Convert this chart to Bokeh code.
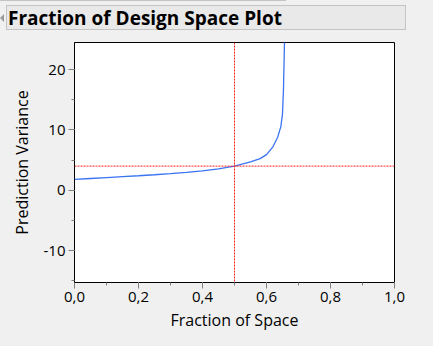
from bokeh.plotting import figure
from bokeh.models import (Div, Span, SingleIntervalTicker, CustomJSTickFormatter, Range1d)
from bokeh.layouts import column
from bokeh.embed import file_html
from bokeh.resources import INLINE

title_text = "Fraction of Design Space Plot"
x_label = "Fraction of Space"
y_label = "Prediction Variance"

fraction = [0.0, 0.05, 0.1, 0.15, 0.2, 0.25, 0.3, 0.35, 0.4, 0.45, 0.5, 0.55, 0.58,
            0.6, 0.62, 0.635, 0.645, 0.65, 0.653, 0.656, 0.657]
variance = [1.8, 1.95, 2.1, 2.25, 2.4, 2.57, 2.75, 2.95, 3.2, 3.55, 4.0, 4.7, 5.25,
            5.9, 7.2, 8.8, 10.6, 12.7, 16.6, 24.0, 30.0]

ref_x = 0.5
ref_y = 4.0

x_range = (0.0, 1.0)
y_range = (-15.3, 24.5)

BG = "#f0f0f0"
FONT = "Open Sans"

div = Div(
    text=(
        '<div style="position:relative;width:433px;height:41px;">'
        '<div style="position:absolute;left:0;top:-1px;width:286px;height:2px;'
        'border:1px solid #c4c4c4;background:#e9e9e9;"></div>'
        '<div style="position:absolute;left:0;top:14px;width:0;height:0;'
        'border-top:4px solid transparent;border-bottom:4px solid transparent;'
        'border-right:4px solid #9a9a9a;"></div>'
        '<div style="position:absolute;left:6px;top:5px;width:400px;height:25px;'
        'border:1px solid #c4c4c4;background:#e9e9e9;"></div>'
        f'<div style="position:absolute;left:8px;top:4px;font-family:\'{FONT}\';'
        'font-weight:bold;font-size:19px;line-height:28px;color:#000;'
        f'white-space:nowrap;">{title_text}</div>'
        '</div>'
    ),
    width=433, height=41,
    styles={"background-color": BG, "margin": "0", "padding": "0"},
)

p = figure(width=433, height=305, output_backend="svg", toolbar_location=None,
           x_range=Range1d(*x_range), y_range=Range1d(*y_range),
           min_border_left=74, min_border_right=39, min_border_top=1, min_border_bottom=64)
p.background_fill_color = "white"
p.border_fill_color = BG
p.outline_line_color = "black"
p.outline_line_width = 1
p.grid.visible = False

p.line(fraction, variance, line_color="#3a74f2", line_width=1.3)

p.add_layout(Span(location=ref_x, dimension="height", line_color="#ff2020",
                  line_dash="2 1", line_width=1))
p.add_layout(Span(location=ref_y, dimension="width", line_color="#ff2020",
                  line_dash="2 1", line_width=1))

p.xaxis.ticker = SingleIntervalTicker(interval=0.2, num_minor_ticks=2)
p.yaxis.ticker = SingleIntervalTicker(interval=10, num_minor_ticks=2)
p.xaxis.formatter = CustomJSTickFormatter(code="return tick.toFixed(1).replace('.', ',');")
p.yaxis.formatter = CustomJSTickFormatter(code="return Math.round(tick).toString();")

for ax in (p.xaxis, p.yaxis):
    ax.axis_line_color = "black"
    ax.major_tick_line_color = "#808080"
    ax.minor_tick_line_color = "#808080"
    ax.major_tick_in = 0
    ax.major_tick_out = 6
    ax.minor_tick_in = 0
    ax.minor_tick_out = 3
    ax.major_label_text_font = FONT
    ax.major_label_text_font_size = "15px"
    ax.major_label_text_color = "#000000"
    ax.axis_label_text_font = FONT
    ax.axis_label_text_font_size = "16px"
    ax.axis_label_text_font_style = "normal"
    ax.axis_label_text_color = "#000000"

p.xaxis.axis_label = x_label
p.yaxis.axis_label = y_label
p.xaxis.major_label_standoff = 3
p.yaxis.major_label_standoff = 3
p.xaxis.axis_label_standoff = 4
p.yaxis.axis_label_standoff = 8

layout = column(div, p, spacing=0, styles={"background-color": BG})

html = file_html(layout, INLINE)
html = html.replace("<head>", "<head><style>html,body{margin:0;padding:0;background:#f0f0f0;}</style>", 1)
open("out.html", "w").write(html)
